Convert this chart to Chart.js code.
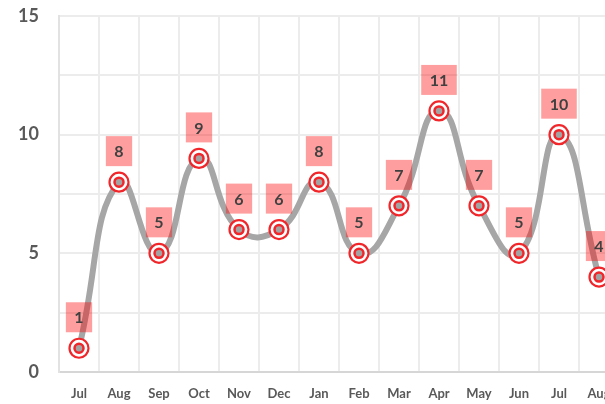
<!DOCTYPE html>
<html>
<head>
<meta charset="utf-8">
<script src="https://cdn.jsdelivr.net/npm/chart.js@4/dist/chart.umd.min.js"></script>
<style>
  html, body { margin: 0; padding: 0; background: #fff; overflow: hidden; }
  .wrap { width: 626px; height: 404px; }
</style>
</head>
<body>
<div class="wrap"><canvas id="lineChart"></canvas></div>
<script>
const months = ["Jul", "Aug", "Sep", "Oct", "Nov", "Dec", "Jan", "Feb", "Mar", "Apr", "May", "Jun", "Jul", "Aug"];
const counts = [1, 8, 5, 9, 6, 6, 8, 5, 7, 11, 7, 5, 10, 4];
const yTicks = [0, 5, 10, 15];

const red = "#f0262a";
const textGrey = "#595959";

// pink boxes with the value, above every point
const valueBoxes = {
    id: "valueBoxes",
    afterDatasetsDraw(chart) {
        const ctx = chart.ctx;
        const meta = chart.getDatasetMeta(1);
        ctx.save();
        ctx.font = "bold 16px Lato";
        ctx.textAlign = "center";
        ctx.textBaseline = "middle";
        meta.data.forEach(function (pt, i) {
            const txt = String(counts[i]);
            const w = ctx.measureText(txt).width + 17;
            const h = 30;
            const bottom = pt.y - 16;
            ctx.fillStyle = "rgba(255, 0, 0, 0.38)";
            ctx.fillRect(pt.x - w / 2, bottom - h, w, h);
            ctx.fillStyle = "#404040";
            ctx.fillText(txt, pt.x, bottom - h / 2 + 1);
        });
        ctx.restore();
    }
};

new Chart("lineChart", {
    type: "line",
    data: {
        labels: months,
        datasets: [
            {
                // inner part of the marker
                data: counts,
                showLine: false,
                pointRadius: 4.5,
                pointBorderWidth: 2.5,
                pointBackgroundColor: "#a3a3a3",
                pointBorderColor: red,
                clip: false
            },
            {
                data: counts,
                borderColor: "#a6a6a6",
                borderWidth: 6,
                tension: 0.5,
                pointRadius: 9.5,
                pointBorderWidth: 2.2,
                pointBackgroundColor: "#ffffff",
                pointBorderColor: red,
                clip: false
            }
        ]
    },
    options: {
        responsive: true,
        maintainAspectRatio: false,
        animation: false,
        events: [],
        layout: { autoPadding: false, padding: { top: 16, right: 7, left: 0, bottom: 0 } },
        plugins: {
            legend: { display: false },
            tooltip: { enabled: false }
        },
        scales: {
            x: {
                offset: true,
                grid: { color: "#ececec", lineWidth: 2, drawTicks: false, offset: true },
                border: { color: "#d6d6d6", width: 2 },
                ticks: {
                    color: textGrey,
                    font: { family: "Lato", weight: "bold", size: 13 },
                    padding: 14,
                    maxRotation: 0,
                    autoSkip: false
                },
                afterFit(scale) { scale.height = 32; }
            },
            y: {
                min: 0,
                max: 15,
                grid: { color: "#ececec", lineWidth: 2, drawTicks: false },
                border: { color: "#e2e2e2", width: 2 },
                ticks: {
                    stepSize: 2.5,
                    color: textGrey,
                    font: { family: "Lato", weight: "bold", size: 18 },
                    padding: 20,
                    callback: function (v) { return yTicks.includes(v) ? v : ""; }
                },
                afterFit(scale) {
                    scale.width = 59;
                    scale.paddingTop = 0;
                    scale.paddingBottom = 0;
                }
            }
        }
    },
    plugins: [valueBoxes]
});
</script>
</body>
</html>
